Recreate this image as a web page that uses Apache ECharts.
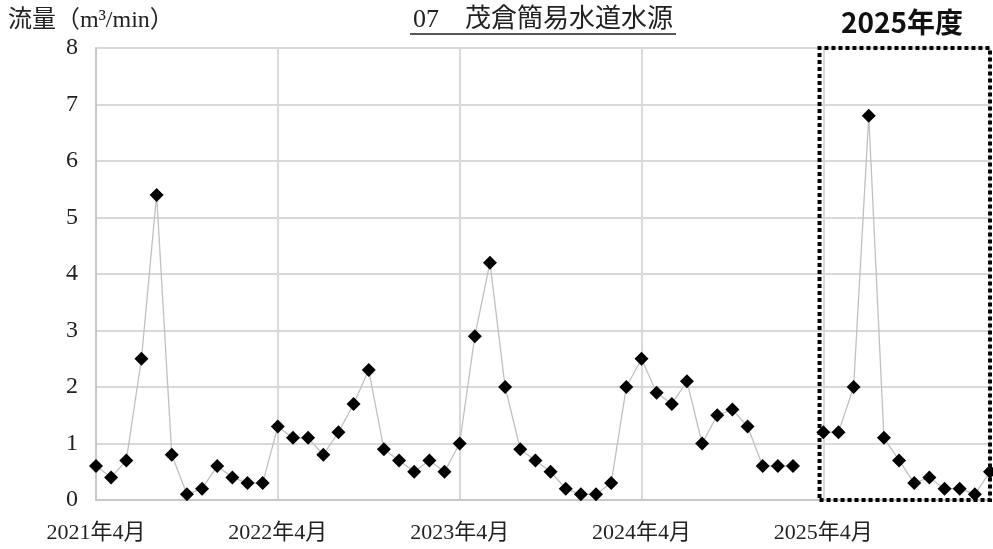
<!DOCTYPE html>
<html>
<head>
<meta charset="utf-8">
<script src="https://cdn.jsdelivr.net/npm/echarts@6/dist/echarts.min.js"></script>
<style>
  html, body { margin: 0; padding: 0; background: #fff; }
  #chart { width: 993px; height: 549px; }
</style>
</head>
<body>
<div id="chart"></div>
<script>
// Monthly flow, April 2021 – March 2026 (null = no measurement)
const months = [
  '2021-04','2021-05','2021-06','2021-07','2021-08','2021-09','2021-10','2021-11','2021-12','2022-01','2022-02','2022-03',
  '2022-04','2022-05','2022-06','2022-07','2022-08','2022-09','2022-10','2022-11','2022-12','2023-01','2023-02','2023-03',
  '2023-04','2023-05','2023-06','2023-07','2023-08','2023-09','2023-10','2023-11','2023-12','2024-01','2024-02','2024-03',
  '2024-04','2024-05','2024-06','2024-07','2024-08','2024-09','2024-10','2024-11','2024-12','2025-01','2025-02','2025-03',
  '2025-04','2025-05','2025-06','2025-07','2025-08','2025-09','2025-10','2025-11','2025-12','2026-01','2026-02','2026-03'
];
const flow = [
  0.6, 0.4, 0.7, 2.5, 5.4, 0.8, 0.1, 0.2, 0.6, 0.4, 0.3, 0.3,
  1.3, 1.1, 1.1, 0.8, 1.2, 1.7, 2.3, 0.9, 0.7, 0.5, 0.7, 0.5,
  1.0, 2.9, 4.2, 2.0, 0.9, 0.7, 0.5, 0.2, 0.1, 0.1, 0.3, 2.0,
  2.5, 1.9, 1.7, 2.1, 1.0, 1.5, 1.6, 1.3, 0.6, 0.6, 0.6, null,
  1.2, 1.2, 2.0, 6.8, 1.1, 0.7, 0.3, 0.4, 0.2, 0.2, 0.1, 0.5
];
const xTickLabels = ['2021年4月', '2022年4月', '2023年4月', '2024年4月', '2025年4月'];
const yTicks = [0, 1, 2, 3, 4, 5, 6, 7, 8];

const chartTitle = '07\u3000茂倉簡易水道水源';
const yAxisTitle = '流量\uFF08m³/min\uFF09';
const fiscalLabel = '2025年度';

const serif = '"Liberation Serif", "DejaVu Serif", "Noto Sans CJK JP", serif';
const sans = '"Noto Sans CJK JP", "Noto Sans", sans-serif';

const chart = echarts.init(document.getElementById('chart'), null, { renderer: 'canvas' });

const gridLeft = 96, gridRight = 3, gridTop = 48, gridBottom = 49;
const plotCenter = gridLeft + (993 - gridLeft - gridRight) / 2;

chart.setOption({
  backgroundColor: '#ffffff',
  animation: false,
  grid: { left: gridLeft, right: gridRight, top: gridTop, bottom: gridBottom, containLabel: false },
  xAxis: {
    type: 'value',
    min: 0,
    max: months.length - 1,
    interval: 12,
    axisLine: { show: true, lineStyle: { color: '#c8c8c8', width: 2 } },
    axisTick: { show: false },
    axisLabel: {
      margin: 22,
      fontFamily: serif,
      fontSize: 22,
      color: '#222',
      showMaxLabel: false,
      formatter: v => (v % 12 === 0 ? (xTickLabels[v / 12] || '') : '')
    },
    splitLine: { show: true, lineStyle: { color: '#d9d9d9', width: 2 } }
  },
  yAxis: {
    type: 'value',
    min: yTicks[0],
    max: yTicks[yTicks.length - 1],
    interval: 1,
    axisLine: { show: true, lineStyle: { color: '#c8c8c8', width: 2 } },
    axisTick: { show: false },
    axisLabel: { margin: 18, fontFamily: serif, fontSize: 24, color: '#222' },
    splitLine: { show: true, lineStyle: { color: '#d9d9d9', width: 2 } }
  },
  graphic: [
    {
      type: 'text',
      left: 8, top: 9,
      style: { text: yAxisTitle, font: '24px ' + serif, fill: '#222' }
    },
    {
      type: 'text',
      x: plotCenter, y: 7,
      style: { text: chartTitle, font: '26px ' + serif, fill: '#222', textAlign: 'center', textVerticalAlign: 'top' }
    },
    {
      type: 'line',
      shape: { x1: plotCenter - 133, y1: 34, x2: plotCenter + 133, y2: 34 },
      style: { stroke: '#222', lineWidth: 1.5 }
    },
    {
      type: 'text',
      x: 902, y: 8,
      style: { text: fiscalLabel, font: 'bold 28px ' + sans, fill: '#111', textAlign: 'center', textVerticalAlign: 'top' }
    }
  ],
  series: [{
    type: 'line',
    data: flow.map((v, i) => [i, v]),
    connectNulls: false,
    symbol: 'diamond',
    symbolSize: 14,
    showAllSymbol: true,
    lineStyle: { color: '#c0c0c0', width: 1.3 },
    itemStyle: { color: '#000000' },
    z: 3,
    markArea: {
      silent: true,
      itemStyle: { color: 'rgba(0,0,0,0)', borderColor: '#000', borderWidth: 4, borderType: [4, 3] },
      label: { show: false },
      data: [[{ xAxis: 47.75, yAxis: 0 }, { xAxis: months.length - 1, yAxis: 8.02 }]]
    }
  }]
});
</script>
</body>
</html>
